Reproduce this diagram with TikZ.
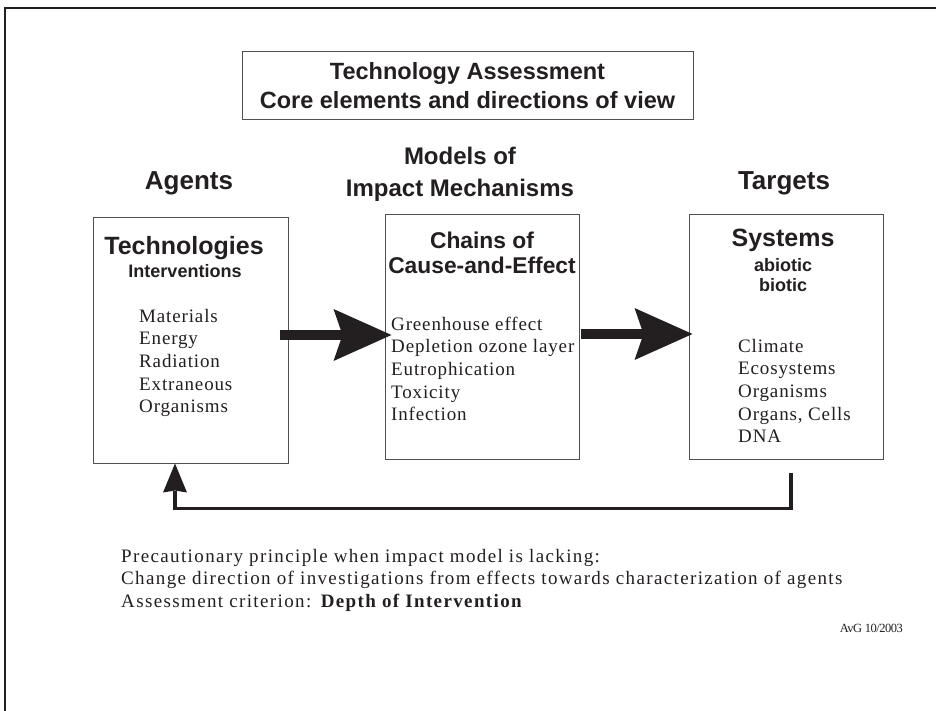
\documentclass[tikz,border=0pt]{standalone}
\usepackage{fontspec}
\setmainfont{Liberation Serif}
\setsansfont{Liberation Sans}
\usetikzlibrary{arrows.meta,calc}
\definecolor{ink}{HTML}{231F20}
\definecolor{boxline}{HTML}{505050}
\begin{document}
\begin{tikzpicture}[x=1pt,y=-1pt,
  box/.style={draw=boxline,line width=1pt,inner sep=0pt},
  headfont/.style={font=\sffamily\bfseries\fontsize{24}{32}\selectfont,text=ink},
  bigtitle/.style={font=\sffamily\bfseries\fontsize{25}{30}\selectfont,text=ink},
  subtitle/.style={font=\sffamily\bfseries\fontsize{18}{20}\selectfont,text=ink},
  chaintitle/.style={font=\sffamily\bfseries\fontsize{22.8}{25}\selectfont,text=ink},
  listtext/.style={font=\fontsize{19}{22.7}\selectfont\addfontfeatures{LetterSpace=4.5},text=ink,align=left,inner sep=0pt,anchor=west},
  bigarrow/.style={draw=ink,line width=10pt,-{Stealth[length=58pt,width=52pt,inset=9pt,line width=0pt]}},
  fbarrow/.style={draw=ink,line width=3.5pt,-{Stealth[length=29pt,width=24pt,inset=2pt,line width=0pt]}}]
\useasboundingbox (0,0) rectangle (936,711);
\fill[white] (0,0) rectangle (936,711);
% frame
\draw[ink,line width=2.2pt] (5,711) -- (5,8) -- (936,8);
% title
\node[box,minimum width=451pt,minimum height=68pt,align=center,
      font=\sffamily\bfseries\fontsize{23.5}{29}\selectfont,text=ink] (title) at (467.5,86)
  {Technology Assessment\\Core elements and directions of view};
% headings
\node[headfont,font=\sffamily\bfseries\fontsize{26}{32}\selectfont] (agents) at (189,183) {Agents};
\node[headfont,align=center] (models) at (460,174) {Models of\\Impact Mechanisms};
\node[headfont,font=\sffamily\bfseries\fontsize{26}{32}\selectfont] (targets) at (784,183) {Targets};
% boxes
\node[box,minimum width=195pt,minimum height=245pt] (tech) at (190.5,340.5) {};
\node[box,minimum width=194pt,minimum height=244pt] (chains) at (482,337) {};
\node[box,minimum width=194pt,minimum height=244pt] (sys) at (786,337) {};
% left box text
\node[bigtitle] (technologies) at (184,248) {Technologies};
\node[subtitle] (interventions) at (185,271) {Interventions};
\node[listtext] (agentlist) at (139,363) {Materials\\Energy\\Radiation\\Extraneous\\Organisms};
% middle box text
\node[chaintitle,align=center] (chaintxt) at (482,252.5) {Chains of\\Cause-and-Effect};
\node[listtext] (chainlist) at (391,369) {Greenhouse effect\\Depletion ozone layer\\Eutrophication\\Toxicity\\Infection};
% right box text
\node[bigtitle] (systems) at (783,240) {Systems};
\node[subtitle,align=center] (abiotic) at (783,275) {abiotic\\biotic};
\node[listtext] (syslist) at (738,391) {Climate\\Ecosystems\\Organisms\\Organs, Cells\\DNA};
% big arrows
\draw[bigarrow] ($(tech.east)+(-9,-5.5)$) -- ($(chains.west)+(7,-2)$);
\draw[bigarrow] ($(chains.east)+(1,-3)$) -- ($(sys.west)+(4,-3)$);
% feedback arrow
\coordinate (fbstart) at ($(sys.south)+(5,13)$);
\draw[fbarrow] (fbstart) -- ++(0,36) -| ($(tech.south)+(-15.5,0)$);
% bottom text
\node[listtext,font=\fontsize{19}{22.5}\selectfont\addfontfeatures{LetterSpace=7.2}] (note) at (121,580)
  {Precautionary principle when impact model is lacking:\\
   Change direction of investigations from effects towards characterization of agents\\
   Assessment criterion: \textbf{Depth of Intervention}};
\node[font=\fontsize{12.5}{14}\selectfont\addfontfeatures{LetterSpace=-4},text=ink,anchor=east,inner sep=0pt] (avg) at (903,628) {AvG 10/2003};
\end{tikzpicture}
\end{document}
